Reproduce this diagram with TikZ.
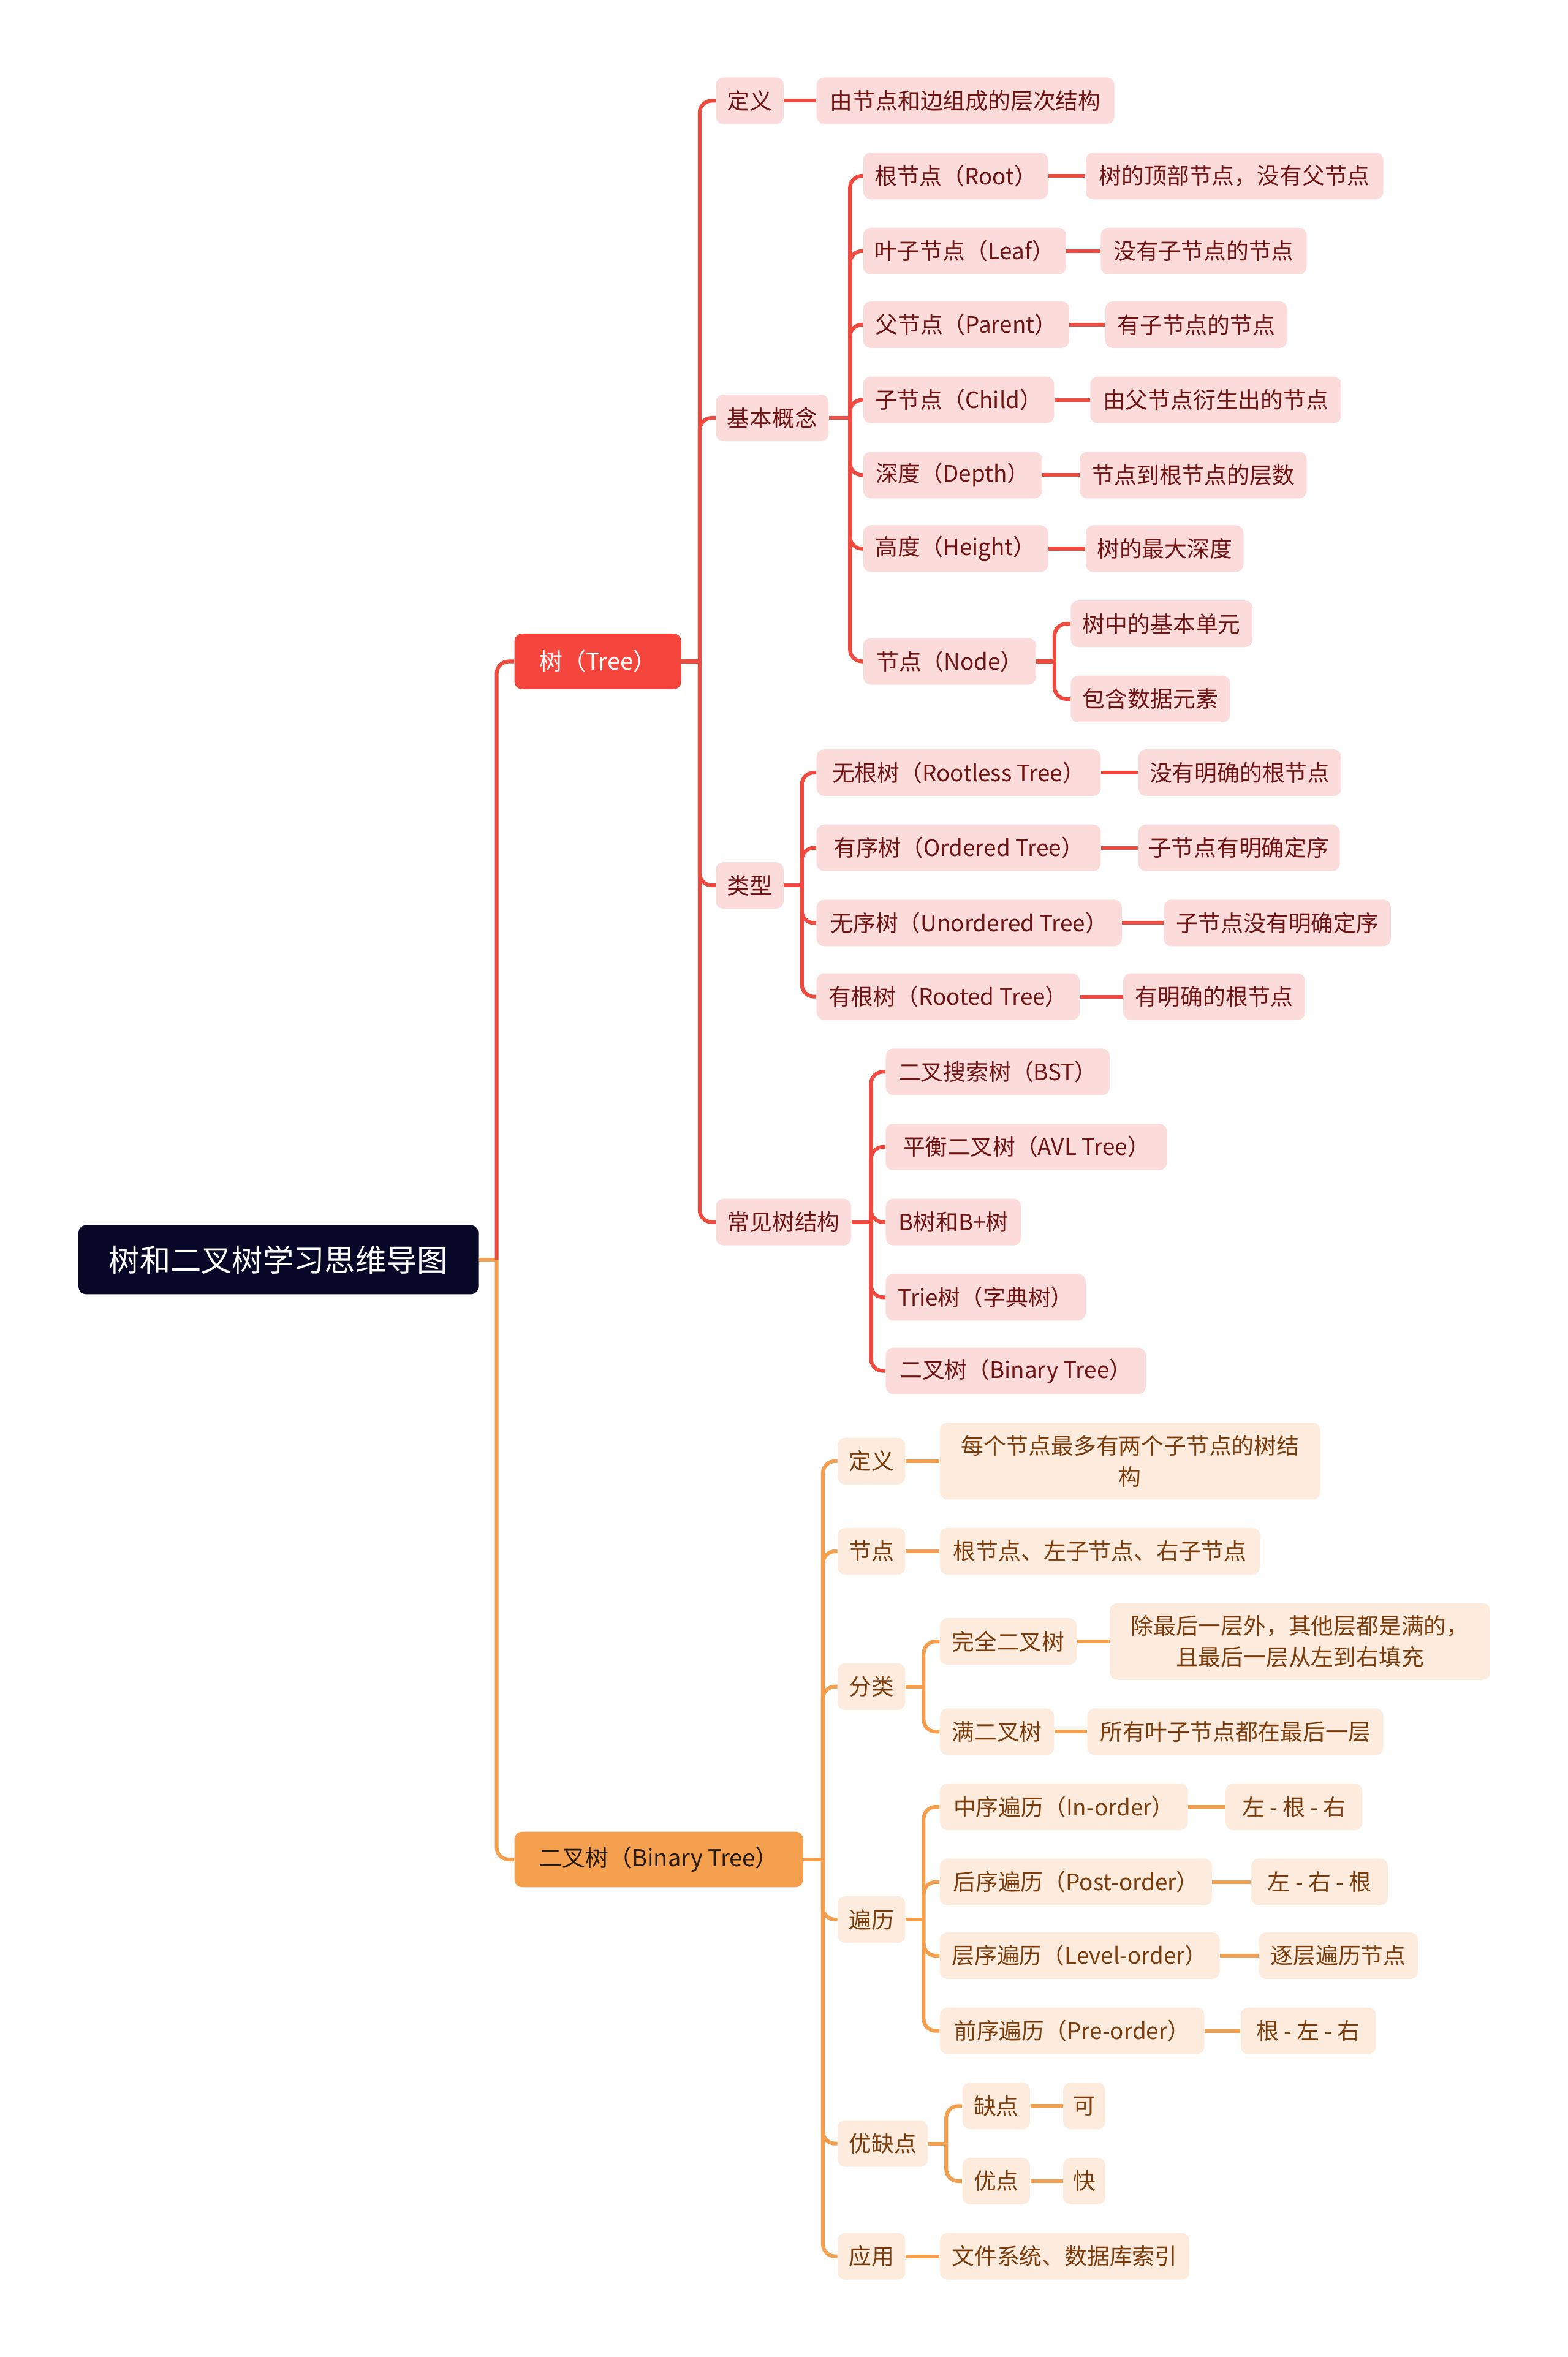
\documentclass[tikz,border=0pt]{standalone}
\usepackage{fontspec}
\setmainfont{Noto Sans CJK SC}
\definecolor{redline}{HTML}{EF4A40}
\definecolor{redfill}{HTML}{F5463E}
\definecolor{pinkfill}{HTML}{FCDCDA}
\definecolor{pinktext}{HTML}{6E1414}
\definecolor{orline}{HTML}{F2A050}
\definecolor{orfill}{HTML}{F4A04F}
\definecolor{orsub}{HTML}{FDECDE}
\definecolor{ortext}{HTML}{7A3C0C}
\definecolor{rootfill}{HTML}{070727}
\tikzset{
  base/.style={rounded corners=5pt, minimum height=31pt, inner xsep=0pt, inner ysep=0pt,
    anchor=west, align=center, font=\fontsize{15}{21}\selectfont},
  rsub/.style={base, fill=pinkfill, text=pinktext},
  osub/.style={base, fill=orsub, text=ortext},
  rl/.style={draw=redline, line width=2.5pt, rounded corners=8pt},
  ol/.style={draw=orline, line width=2.5pt, rounded corners=8pt},
}
\begin{document}
\begin{tikzpicture}[x=1pt,y=-1pt]
\useasboundingbox[fill=white] (0,0) rectangle (1043,1568);

% root and main branches
\node[base, fill=rootfill, text=white, minimum width=266pt, minimum height=46pt,
  font=\fontsize{20.5}{24}\selectfont] (root) at (52,838) {树和二叉树学习思维导图};
\node[base, fill=redfill, text=white, minimum width=111pt, minimum height=37pt,
  font=\fontsize{15.5}{19}\selectfont] (tree) at (342,440) {树（Tree）};
\node[base, fill=orfill, text=black!80!brown, minimum width=192pt, minimum height=37pt,
  font=\fontsize{15.5}{19}\selectfont] (bt) at (342,1237) {二叉树（Binary Tree）};

% tree children
\node[rsub, minimum width=45pt] (tdef) at (476,67) {定义};
\node[rsub, minimum width=198pt] (tdefc) at (543,67) {由节点和边组成的层次结构};
\node[rsub, minimum width=75pt] (tbasic) at (476,278) {基本概念};
\node[rsub, minimum width=45pt] (ttype) at (476,589) {类型};
\node[rsub, minimum width=90pt] (tcommon) at (476,813) {常见树结构};

% basic concepts
\node[rsub, minimum width=123pt] (b1) at (574,117) {根节点（Root）};
\node[rsub, minimum width=198pt] (b1c) at (722,117) {树的顶部节点，没有父节点};
\node[rsub, minimum width=135pt] (b2) at (574,167) {叶子节点（Leaf）};
\node[rsub, minimum width=137pt] (b2c) at (732,167) {没有子节点的节点};
\node[rsub, minimum width=137pt] (b3) at (574,216) {父节点（Parent）};
\node[rsub, minimum width=121pt] (b3c) at (735,216) {有子节点的节点};
\node[rsub, minimum width=127pt] (b4) at (574,266) {子节点（Child）};
\node[rsub, minimum width=167pt] (b4c) at (725,266) {由父节点衍生出的节点};
\node[rsub, minimum width=119pt] (b5) at (574,316) {深度（Depth）};
\node[rsub, minimum width=151pt] (b5c) at (718,316) {节点到根节点的层数};
\node[rsub, minimum width=123pt] (b6) at (574,365) {高度（Height）};
\node[rsub, minimum width=105pt] (b6c) at (722,365) {树的最大深度};
\node[rsub, minimum width=115pt] (b7) at (574,440) {节点（Node）};
\node[rsub, minimum width=121pt] (b7a) at (712,415) {树中的基本单元};
\node[rsub, minimum width=106pt] (b7b) at (712,465) {包含数据元素};

% types
\node[rsub, minimum width=189pt] (y1) at (543,514) {无根树（Rootless Tree）};
\node[rsub, minimum width=135pt] (y1c) at (757,514) {没有明确的根节点};
\node[rsub, minimum width=189pt] (y2) at (543,564) {有序树（Ordered Tree）};
\node[rsub, minimum width=134pt] (y2c) at (757,564) {子节点有明确定序};
\node[rsub, minimum width=203pt] (y3) at (543,614) {无序树（Unordered Tree）};
\node[rsub, minimum width=151pt] (y3c) at (774,614) {子节点没有明确定序};
\node[rsub, minimum width=175pt] (y4) at (543,663) {有根树（Rooted Tree）};
\node[rsub, minimum width=121pt] (y4c) at (747,663) {有明确的根节点};

% common structures
\node[rsub, minimum width=149pt] (c1) at (589,713) {二叉搜索树（BST）};
\node[rsub, minimum width=187pt] (c2) at (589,763) {平衡二叉树（AVL Tree）};
\node[rsub, minimum width=90pt] (c3) at (589,813) {B树和B+树};
\node[rsub, minimum width=133pt] (c4) at (589,863) {Trie树（字典树）};
\node[rsub, minimum width=173pt] (c5) at (589,912) {二叉树（Binary Tree）};

% binary tree children
\node[osub, minimum width=45pt] (ddef) at (557,972) {定义};
\node[osub, minimum width=253pt, minimum height=51pt] (ddefc) at (625,972) {每个节点最多有两个子节点的树结\\构};
\node[osub, minimum width=45pt] (dnode) at (557,1032) {节点};
\node[osub, minimum width=213pt] (dnodec) at (625,1032) {根节点、左子节点、右子节点};
\node[osub, minimum width=45pt] (dcls) at (557,1122) {分类};
\node[osub, minimum width=91pt] (k1) at (625,1092) {完全二叉树};
\node[osub, minimum width=253pt, minimum height=51pt] (k1c) at (738,1092) {除最后一层外，其他层都是满的，\\且最后一层从左到右填充};
\node[osub, minimum width=76pt] (k2) at (625,1152) {满二叉树};
\node[osub, minimum width=197pt] (k2c) at (723,1152) {所有叶子节点都在最后一层};
\node[osub, minimum width=45pt] (dtrav) at (557,1277) {遍历};
\node[osub, minimum width=165pt] (r1) at (625,1202) {中序遍历（In-order）};
\node[osub, minimum width=91pt] (r1c) at (815,1202) {左 - 根 - 右};
\node[osub, minimum width=181pt] (r2) at (625,1252) {后序遍历（Post-order）};
\node[osub, minimum width=91pt] (r2c) at (832,1252) {左 - 右 - 根};
\node[osub, minimum width=186pt] (r3) at (625,1301) {层序遍历（Level-order）};
\node[osub, minimum width=106pt] (r3c) at (837,1301) {逐层遍历节点};
\node[osub, minimum width=176pt] (r4) at (625,1351) {前序遍历（Pre-order）};
\node[osub, minimum width=90pt] (r4c) at (825,1351) {根 - 左 - 右};
\node[osub, minimum width=60pt] (dpro) at (557,1426) {优缺点};
\node[osub, minimum width=45pt] (p1) at (640,1401) {缺点};
\node[osub, minimum width=28pt] (p1c) at (707,1401) {可};
\node[osub, minimum width=45pt] (p2) at (640,1451) {优点};
\node[osub, minimum width=28pt] (p2c) at (707,1451) {快};
\node[osub, minimum width=45pt] (dapp) at (557,1501) {应用};
\node[osub, minimum width=166pt] (dappc) at (625,1501) {文件系统、数据库索引};

% junction coordinates
\coordinate (jR) at ([xshift=12pt]root.east);
\coordinate (jT) at ([xshift=12pt]tree.east);
\coordinate (jB) at ([xshift=14pt]tbasic.east);
\coordinate (jN) at ([xshift=12pt]b7.east);
\coordinate (jY) at ([xshift=12pt]ttype.east);
\coordinate (jC) at ([xshift=13pt]tcommon.east);
\coordinate (jBT) at ([xshift=13pt]bt.east);
\coordinate (jK) at ([xshift=12pt]dcls.east);
\coordinate (jV) at ([xshift=12pt]dtrav.east);
\coordinate (jP) at ([xshift=12pt]dpro.east);

% connectors: root level
\draw[ol] (root.east) -- (jR);
\draw[rl] (jR) |- (tree.west);
\draw[ol] (jR) |- (bt.west);

% tree
\draw[rl] (tree.east) -- (jT);
\foreach \c in {tdef,tbasic,ttype,tcommon} \draw[rl] (jT) |- (\c.west);
\draw[rl] (tdef.east) -- (tdefc.west);
\draw[rl] (tbasic.east) -- (jB);
\foreach \c in {b1,b2,b3,b4,b5,b6,b7} \draw[rl] (jB) |- (\c.west);
\foreach \a/\b in {b1/b1c,b2/b2c,b3/b3c,b4/b4c,b5/b5c,b6/b6c} \draw[rl] (\a.east) -- (\b.west);
\draw[rl] (b7.east) -- (jN);
\foreach \c in {b7a,b7b} \draw[rl] (jN) |- (\c.west);
\draw[rl] (ttype.east) -- (jY);
\foreach \c in {y1,y2,y3,y4} \draw[rl] (jY) |- (\c.west);
\foreach \a/\b in {y1/y1c,y2/y2c,y3/y3c,y4/y4c} \draw[rl] (\a.east) -- (\b.west);
\draw[rl] (tcommon.east) -- (jC);
\foreach \c in {c1,c2,c3,c4,c5} \draw[rl] (jC) |- (\c.west);

% binary tree
\draw[ol] (bt.east) -- (jBT);
\foreach \c in {ddef,dnode,dcls,dtrav,dpro,dapp} \draw[ol] (jBT) |- (\c.west);
\foreach \a/\b in {ddef/ddefc,dnode/dnodec,dapp/dappc,k1/k1c,k2/k2c,r1/r1c,r2/r2c,r3/r3c,r4/r4c,p1/p1c,p2/p2c} \draw[ol] (\a.east) -- (\b.west);
\draw[ol] (dcls.east) -- (jK);
\foreach \c in {k1,k2} \draw[ol] (jK) |- (\c.west);
\draw[ol] (dtrav.east) -- (jV);
\foreach \c in {r1,r2,r3,r4} \draw[ol] (jV) |- (\c.west);
\draw[ol] (dpro.east) -- (jP);
\foreach \c in {p1,p2} \draw[ol] (jP) |- (\c.west);
\end{tikzpicture}
\end{document}
